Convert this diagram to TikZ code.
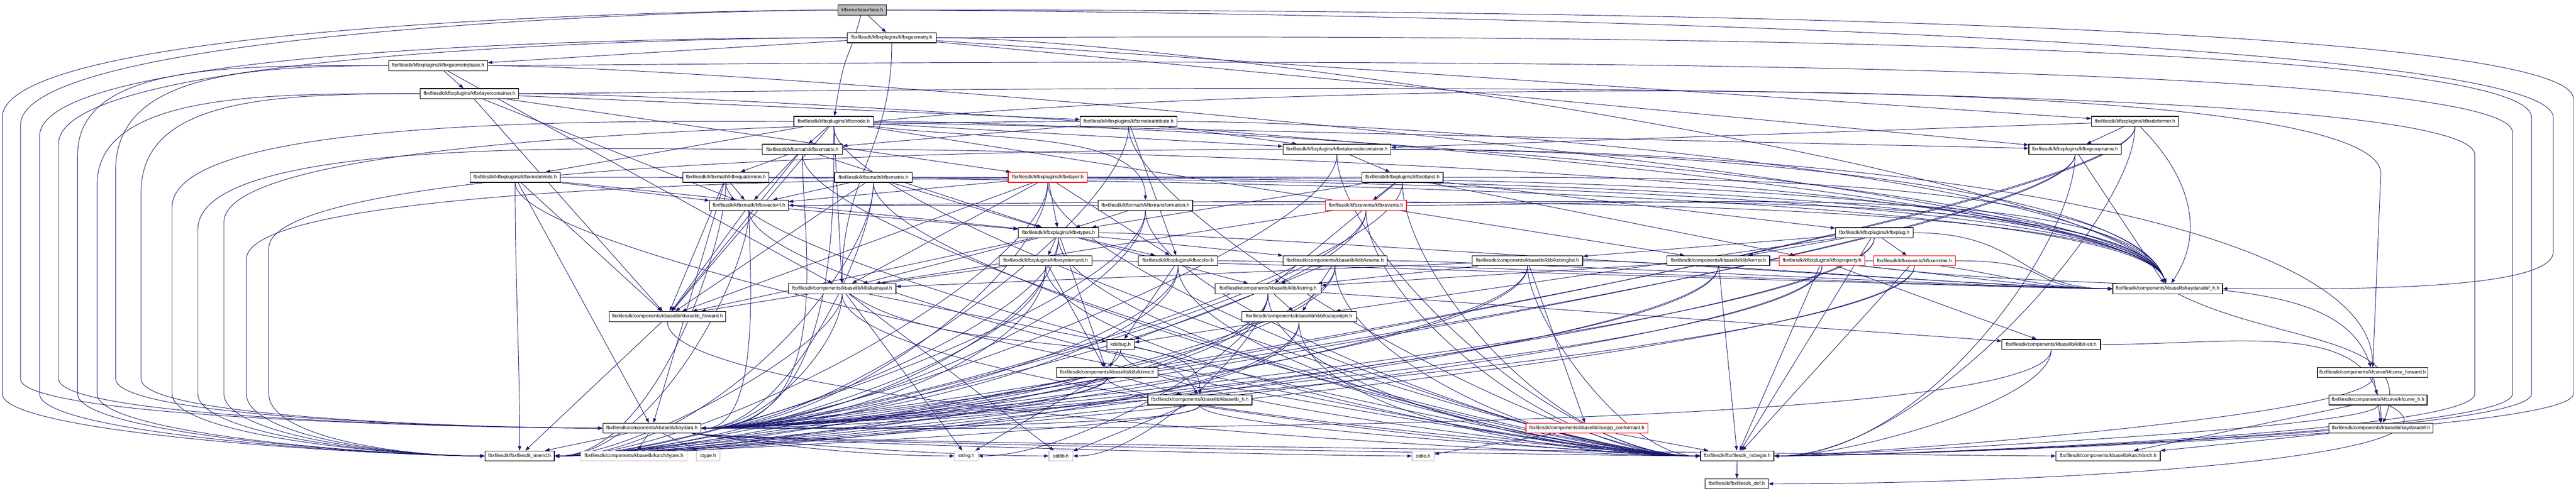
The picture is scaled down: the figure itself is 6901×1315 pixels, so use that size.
\documentclass[tikz,border=0pt]{standalone}
\usepackage{fontspec}
\newfontfamily\nf{Liberation Sans}
\usetikzlibrary{arrows.meta}
\pgfdeclarelayer{bg}
\pgfsetlayers{bg,main}
\definecolor{edgec}{HTML}{191970}
\definecolor{grayb}{HTML}{BFBFBF}
\tikzset{
 box/.style={draw=black,line width=0.85pt,fill=white,minimum height=13.5pt,inner sep=0pt,font=\nf\fontsize{6.6}{7.5}\selectfont},
 nb/.style={},
 redb/.style={draw=red},
 grb/.style={draw=grayb},
 root/.style={fill=grayb},
 e/.style={draw=edgec,line width=0.65pt,-{Triangle[length=6pt,width=4.4pt]}},
 tl/.style={to path={.. controls +(0,-#1) and +(2*#1,0) .. (\tikztotarget)}},
 tl/.default=250,
 tr/.style={to path={.. controls +(0,-#1) and +(-2*#1,0) .. (\tikztotarget)}},
 tr/.default=250,
 tk/.style={to path={.. controls +(800,0) and +(-100,300) .. (\tikztotarget)}},
 tkw/.style={to path={.. controls +(400,0) and +(-400,0) .. (\tikztotarget)}},
 tbr/.style={to path={.. controls +(300,-40) and +(-300,0) .. (\tikztotarget)}},
}
\newcommand\BX[6]{\node[box,#5,minimum width=#4*0.5pt] (#1) at (#2,#3) {#6};}
\newcommand\LoopL[5]{\draw[e] (#1.west) .. controls +(-400,0) and +(0,250) .. (#2,#3) -- (#2,#4) .. controls +(0,-110) and +(-250,0) .. (#5.west);}
\newcommand\LoopR[5]{\draw[e] (#1.east) .. controls +(400,0) and +(0,250) .. (#2,#3) -- (#2,#4) .. controls +(0,-110) and +(250,0) .. (#5.east);}
\begin{document}
\begin{tikzpicture}[x=0.5pt,y=0.5pt]
\useasboundingbox (0,0) rectangle (6901,1315);
\BX{nurbs}{2310}{1288}{130}{root}{kfbxnurbssurface.h}
\BX{geom}{2389}{1214}{238}{nb}{fbxfilesdk/kfbxplugins/kfbxgeometry.h}
\BX{gbase}{1173.5}{1139}{265}{nb}{fbxfilesdk/kfbxplugins/kfbxgeometrybase.h}
\BX{lcont}{1257.5}{1064}{263}{nb}{fbxfilesdk/kfbxplugins/kfbxlayercontainer.h}
\BX{knode}{2233.5}{989.5}{213}{nb}{fbxfilesdk/kfbxplugins/kfbxnode.h}
\BX{nattr}{3023.5}{989.5}{259}{nb}{fbxfilesdk/kfbxplugins/kfbxnodeattribute.h}
\BX{deform}{5719.5}{989.5}{233}{nb}{fbxfilesdk/kfbxplugins/kfbxdeformer.h}
\BX{xmat}{2149.5}{915}{215}{nb}{fbxfilesdk/kfbxmath/kfbxxmatrix.h}
\BX{takenc}{3581.5}{915}{289}{nb}{fbxfilesdk/kfbxplugins/kfbxtakenodecontainer.h}
\BX{groupn}{5559}{915}{248}{nb}{fbxfilesdk/kfbxplugins/kfbxgroupname.h}
\BX{nlim}{1380}{840}{242}{nb}{fbxfilesdk/kfbxplugins/kfbxnodelimits.h}
\BX{quat}{1944.5}{840}{231}{nb}{fbxfilesdk/kfbxmath/kfbxquaternion.h}
\BX{mat}{2340}{840}{208}{nb}{fbxfilesdk/kfbxmath/kfbxmatrix.h}
\BX{layer}{2807}{840}{212}{redb}{fbxfilesdk/kfbxplugins/kfbxlayer.h}
\BX{obj}{3757}{840}{218}{nb}{fbxfilesdk/kfbxplugins/kfbxobject.h}
\BX{vec4}{2006.5}{765}{211}{nb}{fbxfilesdk/kfbxmath/kfbxvector4.h}
\BX{transf}{3068.5}{765}{253}{nb}{fbxfilesdk/kfbxmath/kfbxtransformation.h}
\BX{events}{3659.5}{765}{217}{redb}{fbxfilesdk/kfbxevents/kfbxevents.h}
\BX{types}{2835.5}{691.5}{215}{nb}{fbxfilesdk/kfbxplugins/kfbxtypes.h}
\BX{plug}{5021}{691.5}{208}{nb}{fbxfilesdk/kfbxplugins/kfbxplug.h}
\BX{sysu}{2801}{616.5}{248}{nb}{fbxfilesdk/kfbxplugins/kfbxsystemunit.h}
\BX{kcolor}{3156}{616.5}{212}{nb}{fbxfilesdk/kfbxplugins/kfbxcolor.h}
\BX{kname}{3576.5}{616.5}{279}{nb}{fbxfilesdk/components/kbaselib/klib/kname.h}
\BX{kstrl}{4092}{616.5}{296}{nb}{fbxfilesdk/components/kbaselib/klib/kstringlist.h}
\BX{kerror}{4603.5}{616.5}{275}{nb}{fbxfilesdk/components/kbaselib/klib/kerror.h}
\BX{prop}{4881}{616.5}{230}{redb}{fbxfilesdk/kfbxplugins/kfbxproperty.h}
\BX{emit}{5128.5}{616.5}{219}{redb}{fbxfilesdk/kfbxevents/kfbxemitter.h}
\BX{karr}{2256}{541.5}{288}{nb}{fbxfilesdk/components/kbaselib/klib/karrayul.h}
\BX{kstr}{3397}{541.5}{284}{nb}{fbxfilesdk/components/kbaselib/klib/kstring.h}
\BX{kaddh}{5807}{541.5}{294}{nb}{fbxfilesdk/components/kbaselib/kaydaradef\_h.h}
\BX{kbfwd}{1788}{467}{312}{nb}{fbxfilesdk/components/kbaselib/kbaselib\_forward.h}
\BX{kscp}{3480}{467}{306}{nb}{fbxfilesdk/components/kbaselib/klib/kscopedptr.h}
\BX{kdebug}{3002}{392}{74}{nb}{kdebug.h}
\BX{tstr}{5495}{392}{264}{nb}{fbxfilesdk/components/kbaselib/klib/t-str.h}
\BX{ktime}{2966}{317}{272}{nb}{fbxfilesdk/components/kbaselib/klib/ktime.h}
\BX{kfcfwd}{6356}{317}{296}{nb}{fbxfilesdk/components/kfcurve/kfcurve\_forward.h}
\BX{kbh}{3214.5}{243.5}{279}{nb}{fbxfilesdk/components/kbaselib/kbaselib\_h.h}
\BX{kfch}{6370.5}{243.5}{263}{nb}{fbxfilesdk/components/kfcurve/kfcurve\_h.h}
\BX{kayd}{1746.5}{168}{263}{nb}{fbxfilesdk/components/kbaselib/kaydara.h}
\BX{iso}{4251}{168}{326}{redb}{fbxfilesdk/components/kbaselib/isocpp\_conformant.h}
\BX{kadd}{6378.5}{168}{279}{nb}{fbxfilesdk/components/kbaselib/kaydaradef.h}
\BX{nsend}{1392}{93.5}{186}{nb}{fbxfilesdk/fbxfilesdk\_nsend.h}
\BX{ktypes}{1698.5}{93.5}{285}{grb}{fbxfilesdk/components/kbaselib/karch/types.h}
\BX{ctype}{1897}{93.5}{64}{grb}{ctype.h}
\BX{strh}{2588.5}{93.5}{63}{grb}{string.h}
\BX{stdlib}{2842}{93.5}{64}{grb}{stdlib.h}
\BX{stdio}{3812.5}{93.5}{59}{grb}{stdio.h}
\BX{nsbegin}{4654}{93.5}{196}{nb}{fbxfilesdk/fbxfilesdk\_nsbegin.h}
\BX{arch}{5647.5}{93.5}{279}{nb}{fbxfilesdk/components/kbaselib/karch/arch.h}
\BX{fdef}{4652.5}{19}{169}{nb}{fbxfilesdk/fbxfilesdk\_def.h}
\begin{pgfonlayer}{bg}
\fill[white] (0,0) rectangle (6901,1315);
% nurbs
\draw[e] (nurbs) -- (geom);
\draw[e] (nurbs) .. controls +(-40,-150) and +(30,200) .. (knode);
\LoopL{nurbs}{6}{1000}{260}{nsend}
\LoopL{nurbs}{55}{980}{300}{kayd}
\LoopR{nurbs}{6894}{1050}{260}{nsbegin}
\LoopR{nurbs}{6840}{1000}{640}{kaddh}
% geom
\draw[e] (geom) -- (gbase);
\draw[e] (geom) -- (deform);
\draw[e] (geom) -- (groupn);
\draw[e] (geom) .. controls +(0,-300) and +(0,300) .. (karr);
\draw[e] (geom) to[tk] (kaddh);
\LoopR{geom}{6782}{1000}{260}{nsbegin}
\LoopL{geom}{106}{950}{260}{nsend}
\LoopL{geom}{157}{930}{300}{kayd}
% gbase
\draw[e] (gbase) -- (lcont);
\draw[e] (gbase) -- (karr);
\draw[e] (gbase) to[tk] (kaddh);
\LoopR{gbase}{6731}{960}{260}{nsbegin}
\LoopL{gbase}{208}{900}{260}{nsend}
\LoopL{gbase}{310}{860}{300}{kayd}
% lcont
\draw[e] (lcont) -- (nattr);
\draw[e] (lcont) -- (layer);
\draw[e] (lcont) -- (kbfwd);
\draw[e] (lcont) -- (vec4);
\draw[e] (lcont) to[tk] (kaddh);
\LoopR{lcont}{6630}{900}{260}{nsbegin}
\LoopL{lcont}{260}{820}{260}{nsend}
\LoopL{lcont}{378}{800}{300}{kayd}
% knode
\draw[e] (knode) -- (xmat);
\draw[e] (knode) -- (nlim);
\draw[e] (knode) -- (takenc);
\draw[e] (knode) .. controls +(400,-50) and +(0,200) .. (transf);
\draw[e] (knode) -- (groupn);
\draw[e] (knode) -- (karr);
\draw[e] (knode) -- (kerror);
\draw[e] (knode) -- (kbfwd);
\draw[e] (knode) to[tk] (kaddh);
\draw[e] (knode) to[tr] (nsbegin);
\draw[e] (knode) to[tl] (kayd);
\LoopL{knode}{461}{760}{260}{nsend}
\draw[e] (knode.east) .. controls +(900,100) and +(0,300) .. (6378,850) -- (kfcfwd);
% nattr
\draw[e] (nattr) -- (takenc);
\draw[e] (nattr) -- (kcolor);
\draw[e] (nattr) -- (xmat);
\draw[e] (nattr) to[tk] (kaddh);
\draw[e] (nattr) to[tr] (nsbegin);
\draw[e] (nattr) to[tl] (kayd);
\LoopL{nattr}{600}{720}{260}{nsend}
% deform
\draw[e] (deform) -- (takenc);
\draw[e] (deform) -- (groupn);
\draw[e] (deform) .. controls +(150,-150) and +(100,150) .. (kaddh);
\draw[e] (deform) to[tl] (nsbegin);
\draw[e] (deform) to[tl] (kayd);
\draw[e] (deform) to[tl] (nsend);
% xmat
\draw[e] (xmat) -- (quat);
\draw[e] (xmat) -- (vec4);
\draw[e] (xmat) -- (types);
\draw[e] (xmat) -- (kbfwd);
\draw[e] (xmat) to[tk] (kaddh);
\draw[e] (xmat) to[tr] (nsbegin);
\draw[e] (xmat) to[tl] (kayd);
\LoopL{xmat}{530}{700}{260}{nsend}
% takenc
\draw[e] (takenc) -- (obj);
\draw[e] (takenc) .. controls +(1500,0) and +(0,400) .. (kfcfwd);
\draw[e] (takenc) to[tk] (kaddh);
\draw[e] (takenc) to[tr] (nsbegin);
\draw[e] (takenc) to[tl] (kayd);
\LoopL{takenc}{720}{650}{260}{nsend}
% groupn
\draw[e] (groupn) -- (kaddh);
\draw[e] (groupn) to[tl] (nsbegin);
\draw[e] (groupn) to[tl] (nsend);
\draw[e] (groupn) to[tl] (kayd);
% nlim
\draw[e] (nlim) -- (vec4);
\draw[e] (nlim) -- (types);
\draw[e] (nlim) -- (kbfwd);
\draw[e] (nlim) to[tk] (kaddh);
\draw[e] (nlim) .. controls +(0,-300) and +(0,300) .. (nsend);
\draw[e] (nlim) -- (kayd);
\draw[e] (nlim) to[tr] (nsbegin);
% quat
\draw[e] (quat) -- (vec4);
\draw[e] (quat) -- (kbfwd);
\draw[e] (quat) to[tk] (kaddh);
\draw[e] (quat) to[tl=180] (nsend);
\draw[e] (quat) -- (kayd);
\draw[e] (quat) to[tr] (nsbegin);
% mat
\draw[e] (mat) -- (vec4);
\draw[e] (mat) -- (types);
\draw[e] (mat) -- (kbfwd);
\draw[e] (mat) to[tk] (kaddh);
\draw[e] (mat) to[tl] (nsend);
\draw[e] (mat) to[tl=180] (kayd);
\draw[e] (mat) to[tr] (nsbegin);
% layer
\draw[e] (layer) -- (types);
\draw[e] (layer) -- (kcolor);
\draw[e] (layer) -- (karr);
\draw[e] (layer) -- (vec4);
\draw[e] (layer) -- (kbfwd);
\draw[e] (layer) to[tk] (kaddh);
\draw[e] (layer) to[tr] (nsbegin);
\draw[e] (layer) to[tl] (nsend);
\draw[e] (layer) to[tl] (kayd);
% obj
\draw[e] (obj) -- (events);
\draw[e] (obj) -- (plug);
\draw[e] (obj) -- (prop);
\draw[e] (obj) -- (types);
\draw[e] (obj) -- (kstr);
\draw[e] (obj) to[tk] (kaddh);
\draw[e] (obj) to[tr] (nsbegin);
\draw[e] (obj) to[tl] (kayd);
\LoopL{obj}{660}{620}{260}{nsend}
% vec4
\draw[e] (vec4) -- (types);
\draw[e] (vec4) -- (kbfwd);
\draw[e] (vec4) to[tk] (kaddh);
\draw[e] (vec4) to[tr] (nsbegin);
\draw[e] (vec4) to[tl=180] (nsend);
\draw[e] (vec4) to[tl=150] (kayd);
% transf
\draw[e] (transf) -- (types);
\draw[e] (transf) -- (vec4);
\draw[e] (transf) to[tk] (kaddh);
\draw[e] (transf) to[tr] (nsbegin);
\draw[e] (transf) to[tl] (nsend);
\draw[e] (transf) to[tl] (kayd);
% events
\draw[e] (events) -- (karr);
\draw[e] (events) to[tk] (kaddh);
\draw[e] (events) to[tr] (nsbegin);
\draw[e] (events) to[tl] (nsend);
\draw[e] (events) to[tl] (kayd);
% types
\draw[e] (types) -- (sysu);
\draw[e] (types) -- (kcolor);
\draw[e] (types) -- (kname);
\draw[e] (types) -- (kstr);
\draw[e] (types) -- (karr);
\draw[e] (types) -- (ktime);
\draw[e] (types) -- (kbfwd);
\draw[e] (types) to[tkw] (kaddh);
\draw[e] (types) to[tr] (nsbegin);
\draw[e] (types) to[tl] (nsend);
\draw[e] (types) to[tl] (kayd);
% plug
\draw[e] (plug) -- (kstrl);
\draw[e] (plug) -- (emit);
\draw[e] (plug) -- (kerror);
\draw[e] (plug) -- (kscp);
\draw[e] (plug) to[tkw] (kaddh);
\draw[e] (plug) -- (nsbegin);
\draw[e] (plug) to[tl] (nsend);
\draw[e] (plug) to[tl] (kayd);
% sysu
\draw[e] (sysu) -- (karr);
\draw[e] (sysu) -- (ktime);
\draw[e] (sysu) to[tkw] (kaddh);
\draw[e] (sysu) to[tr] (nsbegin);
\draw[e] (sysu) to[tl] (nsend);
\draw[e] (sysu) to[tl] (kayd);
% kcolor
\draw[e] (kcolor) -- (kdebug);
\draw[e] (kcolor) to[tkw] (kaddh);
\draw[e] (kcolor) to[tr] (nsbegin);
\draw[e] (kcolor) to[tl] (nsend);
\draw[e] (kcolor) to[tl] (kayd);
% kname
\draw[e] (kname) -- (kstr);
\draw[e] (kname) -- (kscp);
\draw[e] (kname) to[tkw] (kaddh);
\draw[e] (kname) to[tr] (nsbegin);
\draw[e] (kname) to[tl] (nsend);
\draw[e] (kname) to[tl] (kayd);
% kstrl
\draw[e] (kstrl) -- (kstr);
\draw[e] (kstrl) -- (karr);
\draw[e] (kstrl) -- (iso);
\draw[e] (kstrl) to[tkw] (kaddh);
\draw[e] (kstrl) to[tr=150] (nsbegin);
\draw[e] (kstrl) to[tl] (nsend);
\draw[e] (kstrl) to[tl] (kayd);
% kerror
\draw[e] (kerror) -- (kstr);
\draw[e] (kerror) to[tkw] (kaddh);
\draw[e] (kerror) -- (nsbegin);
\draw[e] (kerror) to[tl] (nsend);
\draw[e] (kerror) to[tl] (kayd);
% prop
\draw[e] (prop) .. controls +(800,-100) and +(-100,300) .. (kfcfwd);
\draw[e] (prop) -- (tstr);
\draw[e] (prop) to[tkw] (kaddh);
\draw[e] (prop) -- (nsbegin);
\draw[e] (prop) to[tl] (nsend);
\draw[e] (prop) to[tl] (kayd);
% emit
\draw[e] (emit) to[tkw] (kaddh);
\draw[e] (emit) -- (nsbegin);
\draw[e] (emit) to[tl] (nsend);
\draw[e] (emit) to[tl] (kayd);
% karr
\draw[e] (karr) -- (kbfwd);
\draw[e] (karr) -- (kdebug);
\draw[e] (karr) -- (strh);
\draw[e] (karr) -- (stdlib);
\draw[e] (karr) .. controls +(300,-200) and +(-100,200) .. (kbh);
\draw[e] (karr) to[tr] (nsbegin);
\draw[e] (karr) to[tl=150] (nsend);
\draw[e] (karr) to[tl=150] (kayd);
% kstr
\draw[e] (kstr) -- (kscp);
\draw[e] (kstr) -- (tstr);
\draw[e] (kstr) -- (kdebug);
\draw[e] (kstr) to[tr] (nsbegin);
\draw[e] (kstr) to[tl] (nsend);
\draw[e] (kstr) to[tl] (kayd);
\draw[e] (kstr) to[tl=150] (strh);
\draw[e] (kstr) to[tl=120] (stdlib);
% kaddh
\draw[e] (kaddh) .. controls +(300,-150) and +(100,250) .. (kadd);
% kbfwd
\draw[e] (kbfwd) -- (nsend);
\draw[e] (kbfwd) to[tr] (nsbegin);
% kscp
\draw[e] (kscp) -- (kdebug);
\draw[e] (kscp) to[tr] (nsbegin);
\draw[e] (kscp) to[tl] (nsend);
\draw[e] (kscp) to[tl] (kayd);
% kdebug
\draw[e] (kdebug) -- (ktime);
\draw[e] (kdebug) .. controls +(150,-30) and +(0,100) .. (kbh);
\draw[e] (kdebug) to[tr=150] (nsbegin);
\draw[e] (kdebug) to[tl=150] (kayd);
% tstr
\draw[e] (tstr) .. controls +(500,0) and +(0,300) .. (kadd);
\draw[e] (tstr) to[tl=150] (nsbegin);
\draw[e] (tstr) to[tl] (kayd);
% ktime
\draw[e] (ktime) -- (kbh);
\draw[e] (ktime) -- (strh);
\draw[e] (ktime) to[tl=100] (kayd);
\draw[e] (ktime) to[tr=100] (nsbegin);
\draw[e] (ktime) to[tl=100] (nsend);
% kfcfwd
\draw[e] (kfcfwd) -- (kfch);
\draw[e] (kfcfwd) to[tl=120] (nsbegin);
% kbh
\draw[e] (kbh) to[tl=80] (kayd);
\draw[e] (kbh) to[tr=80] (nsbegin);
\draw[e] (kbh) to[tl=80] (nsend);
\draw[e] (kbh) -- (stdlib);
% kfch
\draw[e] (kfch) -- (kadd);
\draw[e] (kfch) to[tl=80] (nsbegin);
\draw[e] (kfch) -- (arch);
\draw[e] (kfch) .. controls +(300,-150) and +(900,0) .. (fdef);
% kayd
\draw[e] (kayd) -- (nsend);
\draw[e] (kayd) -- (ktypes);
\draw[e] (kayd) -- (ctype);
\draw[e] (kayd) to[tbr] (strh);
\draw[e] (kayd) to[tbr] (stdlib);
\draw[e] (kayd) to[tbr] (stdio);
\draw[e] (kayd) to[tbr] (nsbegin);
\draw[e] (kayd) to[tbr] (arch);
% iso
\draw[e] (iso) -- (stdio);
\draw[e] (iso) -- (nsbegin);
% kadd
\draw[e] (kadd) -- (arch);
% nsbegin
\draw[e] (nsbegin) -- (fdef);
\end{pgfonlayer}
\end{tikzpicture}
\end{document}
